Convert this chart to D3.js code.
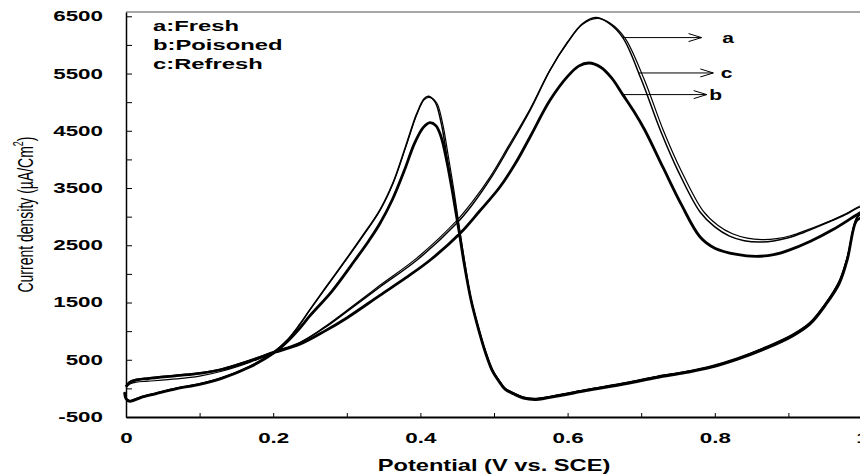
<!DOCTYPE html>
<html>
<head>
<meta charset="utf-8">
<script src="https://cdn.jsdelivr.net/npm/d3@7"></script>
<style>
body{margin:0;background:#fff}
svg{display:block}
text{font-family:Arial,"Liberation Sans",sans-serif}
</style>
</head>
<body>
<div id="chart"></div>
<script>
// [potentiel (V vs. SCE), densite de courant (uA/cm2)]
// a : Fresh
const freshForward = [[0.000,40],[0.005,115],[0.012,150],[0.03,180],[0.069,229],[0.10,270],[0.13,340],[0.168,490],[0.20,640],[0.236,800],[0.27,1060],[0.30,1340],[0.345,1771],[0.395,2238],[0.449,2879],[0.47,3200],[0.495,3660],[0.52,4200],[0.549,4858],[0.576,5557],[0.60,6050],[0.62,6370],[0.638,6478],[0.655,6390],[0.675,6128],[0.70,5400],[0.726,4509],[0.75,3800],[0.78,3081],[0.80,2820],[0.82,2660],[0.84,2580],[0.861,2557],[0.88,2575],[0.90,2630],[0.92,2720],[0.95,2880],[0.975,3020],[1.0,3170]]
const freshReverse = [[1.0,3080],[0.992,2950],[0.98,2280],[0.969,1860],[0.95,1470],[0.929,1140],[0.905,930],[0.87,720],[0.83,520],[0.794,380],[0.76,290],[0.721,205],[0.68,100],[0.625,-25],[0.59,-110],[0.557,-180],[0.54,-155],[0.527,-85],[0.515,0],[0.508,115],[0.498,320],[0.488,660],[0.479,1050],[0.469,1545],[0.460,2150],[0.452,2800],[0.444,3420],[0.436,4050],[0.428,4650],[0.420,5000],[0.411,5103],[0.405,5060],[0.395,4800],[0.38,4230],[0.363,3600],[0.345,3120],[0.32,2640],[0.298,2238],[0.27,1740],[0.25,1380],[0.236,1120],[0.22,860],[0.20,630],[0.168,385],[0.13,185],[0.10,80],[0.069,5],[0.04,-85],[0.02,-150],[0.005,-215],[0.0,-170],[-0.002,-60]]
// b : Poisoned
const poisonedForward = [[0.000,30],[0.005,105],[0.012,140],[0.03,172],[0.069,222],[0.10,262],[0.13,330],[0.168,478],[0.20,620],[0.236,770],[0.27,1000],[0.30,1230],[0.345,1626],[0.38,1930],[0.413,2238],[0.454,2709],[0.48,3090],[0.508,3518],[0.53,3950],[0.549,4392],[0.576,5032],[0.60,5450],[0.615,5630],[0.629,5684],[0.645,5610],[0.66,5420],[0.675,5132],[0.69,4840],[0.705,4509],[0.73,3850],[0.755,3200],[0.78,2645],[0.80,2450],[0.83,2340],[0.856,2307],[0.88,2335],[0.90,2410],[0.93,2570],[0.96,2770],[0.992,3024],[1.0,3080]]
const poisonedReverse = [[1.0,3000],[0.992,2920],[0.98,2250],[0.969,1830],[0.95,1450],[0.929,1120],[0.905,910],[0.87,700],[0.83,505],[0.794,365],[0.76,275],[0.721,190],[0.68,85],[0.625,-40],[0.59,-125],[0.557,-195],[0.54,-170],[0.527,-100],[0.515,-15],[0.508,100],[0.498,300],[0.488,640],[0.479,1030],[0.469,1530],[0.460,2140],[0.452,2790],[0.444,3400],[0.436,3960],[0.428,4400],[0.421,4590],[0.413,4643],[0.404,4560],[0.392,4280],[0.378,3800],[0.362,3300],[0.345,2880],[0.33,2580],[0.311,2238],[0.28,1700],[0.25,1270],[0.236,1050],[0.22,830],[0.20,610],[0.168,372],[0.13,175],[0.10,70],[0.069,-4],[0.04,-95],[0.02,-160],[0.005,-225],[0.0,-180],[-0.002,-70]]
// c : Refresh
const refreshForward = [[0.000,20],[0.006,80],[0.014,110],[0.03,125],[0.069,165],[0.10,215],[0.13,300],[0.168,455],[0.20,615],[0.236,795],[0.27,1075],[0.30,1360],[0.345,1800],[0.395,2275],[0.449,2925],[0.47,3250],[0.495,3700],[0.52,4240],[0.549,4880],[0.576,5560],[0.60,6040],[0.62,6355],[0.640,6462],[0.658,6380],[0.678,6120],[0.704,5400],[0.730,4509],[0.754,3810],[0.784,3100],[0.804,2850],[0.824,2700],[0.844,2625],[0.864,2600],[0.884,2615],[0.904,2670],[0.924,2760],[0.954,2910],[0.978,3050],[1.0,3190]]
const refreshReverse = [[1.0,3100],[0.992,2970],[0.98,2300],[0.969,1880],[0.95,1480],[0.929,1150],[0.905,940],[0.87,730],[0.83,530],[0.794,390],[0.76,295],[0.721,212],[0.68,105],[0.625,-20],[0.59,-105],[0.557,-175],[0.54,-150],[0.527,-80],[0.515,5],[0.508,120],[0.498,325],[0.488,665],[0.479,1055],[0.469,1550],[0.461,2150],[0.453,2800],[0.446,3420],[0.438,4050],[0.430,4640],[0.422,4990],[0.412,5085],[0.405,5040],[0.395,4780],[0.38,4210],[0.363,3585],[0.345,3105],[0.32,2625],[0.298,2225],[0.27,1730],[0.25,1370],[0.236,1110],[0.22,850],[0.20,625],[0.168,380],[0.13,180],[0.10,75],[0.069,0],[0.04,-90],[0.02,-155],[0.005,-220],[0.0,-175],[-0.002,-65]]

const xTicks = [0,0.1,0.2,0.3,0.4,0.5,0.6,0.7,0.8,0.9,1]
const xTickLabels = [0,0.2,0.4,0.6,0.8,1]
const yTicks = [-500,0,500,1000,1500,2000,2500,3000,3500,4000,4500,5000,5500,6000,6500]
const yTickLabels = [-500,500,1500,2500,3500,4500,5500,6500]

const legendLabels = ["a:Fresh","b:Poisoned","c:Refresh"]
// fleches : lettre, potentiel de depart, courant, potentiel de fin, position de la lettre
const arrowNames = ["a","c","b"]
const arrowStart = [0.675,0.697,0.675]
const arrowCurrent = [6128,5510,5132]
const arrowEnd = [0.782,0.798,0.789]
const arrowLabelPos = [0.818,0.816,0.801]

const width = 860, height = 474

const svg = d3.select("#chart").append("svg")
	.attr("width", width)
	.attr("height", height)
	.style("background-color", "white")

const x = d3.scaleLinear().domain([0,1]).range([126,862])
const y = d3.scaleLinear().domain([-500,6575]).range([417,12])

// cadre du haut
svg.append("line")
	.attr("x1", x(0)).attr("x2", width)
	.attr("y1", y(6575)).attr("y2", y(6575))
	.attr("stroke", "#8a8a8a")
	.attr("stroke-width", 1.5)

const line = d3.line()
	.x(d => x(d[0]))
	.y(d => y(d[1]))
	.curve(d3.curveCatmullRom.alpha(0.5))

const curves = [
	{data: poisonedForward.concat(poisonedReverse), w: 2.8},
	{data: freshForward.concat(freshReverse), w: 1.5},
	{data: refreshForward.concat(refreshReverse), w: 1.2}
]
for (let c of curves) {
	svg.append("path")
		.attr("d", line(c.data))
		.attr("fill", "none")
		.attr("stroke", "black")
		.attr("stroke-width", c.w)
		.attr("stroke-linejoin", "round")
}

// axes
const fmt = d3.format("~g")
const xAxis = svg.append("g")
	.attr("transform", `translate(0,${y(-500)})`)
	.call(d3.axisBottom(x).tickValues(xTicks).tickSizeInner(-4).tickSizeOuter(0).tickPadding(16)
		.tickFormat(d => xTickLabels.some(v => Math.abs(v-d) < 1e-9) ? fmt(d) : ""))
xAxis.select(".domain").attr("stroke-width", 2)
xAxis.selectAll("text")
	.attr("transform", "scale(1.6,1)")
	.style("font-size", "14px").style("font-weight", "bold").attr("fill", "black")

const yAxis = svg.append("g")
	.attr("transform", `translate(${x(0)},0)`)
	.call(d3.axisLeft(y).tickValues(yTicks).tickSizeInner(-6).tickSizeOuter(0).tickPadding(23)
		.tickFormat(d => yTickLabels.includes(d) ? d : ""))
yAxis.select(".domain").attr("stroke-width", 1.5)
yAxis.selectAll("text")
	.attr("x", -23/1.6)
	.attr("transform", "scale(1.6,1)")
	.style("font-size", "14px").style("font-weight", "bold").attr("fill", "black")

// titres des axes
svg.append("text")
	.attr("transform", `translate(${x(0.5)},471) scale(1.48,1)`)
	.attr("text-anchor", "middle")
	.style("font-size", "16px").style("font-weight", "bold")
	.text("Potential (V vs. SCE)")

const yTitle = svg.append("text")
	.attr("transform", `translate(33,${(y(-500)+y(6575))/2}) scale(1.6,1) rotate(-90)`)
	.attr("text-anchor", "middle")
	.style("font-size", "14px")
yTitle.append("tspan").text("Current density (µA/Cm")
yTitle.append("tspan").attr("dy", -6).style("font-size", "9px").text("2")
yTitle.append("tspan").attr("dy", 6).text(")")

// legende
legendLabels.forEach((t, i) => {
	svg.append("text")
		.attr("transform", `translate(153,${31 + i*18.8}) scale(1.7,1)`)
		.style("font-size", "14px").style("font-weight", "bold")
		.text(t)
})

// fleches
arrowNames.forEach((n, i) => {
	let x1 = x(arrowStart[i]), x2 = x(arrowEnd[i]), ya = y(arrowCurrent[i])
	svg.append("line")
		.attr("x1", x1).attr("y1", ya).attr("x2", x2).attr("y2", ya)
		.attr("stroke", "black").attr("stroke-width", 1)
	svg.append("path")
		.attr("d", `M${x2-13},${ya-4}L${x2},${ya}L${x2-13},${ya+4}`)
		.attr("fill", "none").attr("stroke", "black").attr("stroke-width", 1)
	svg.append("text")
		.attr("transform", `translate(${x(arrowLabelPos[i])},${ya+5}) scale(1.5,1)`)
		.attr("text-anchor", "middle")
		.style("font-size", "14px").style("font-weight", "bold")
		.text(n)
})
</script>
</body>
</html>
